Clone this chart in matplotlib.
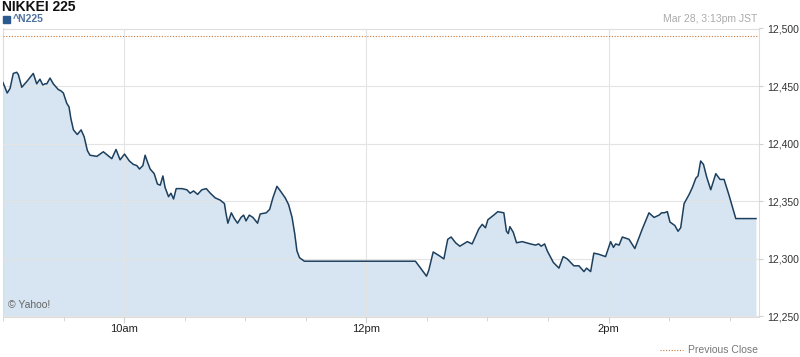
"""
NIKKEI 225 intraday chart
"""
import matplotlib
matplotlib.use("Agg")
import matplotlib.pyplot as plt
from matplotlib.patches import Rectangle
from matplotlib.ticker import FixedLocator, MultipleLocator

# minutes after 9:00 JST
minutes = [0, 2.1, 3.5, 5.1, 6.8, 7.6, 9.3, 11.8, 15.0, 16.7,
           18.3, 19.7, 20.8, 21.7, 23.3, 24.9, 27.4, 28.6, 29.9, 31.6,
           32.7, 33.6, 34.9, 36.8, 38.7, 40.2, 41.8, 43.1, 46.5, 49.7,
           53.9, 56.0, 58.0, 60.2, 62.6, 64.6, 66.3, 67.6, 69.3, 70.4,
           71.6, 72.9, 74.9, 76.5, 77.9, 79.2, 80.3, 82.0, 83.2, 84.5,
           85.8, 88.6, 91.1, 92.7, 94.4, 96.4, 98.5, 100.7, 102.7, 105.1,
           107.6, 109.7, 110.4, 111.4, 113.1, 114.6, 116.2, 117.9, 119.2, 120.4,
           122.0, 123.8, 126.1, 127.4, 130.4, 132.1, 133.7, 135.7, 137.4, 139.8,
           141.5, 143.2, 144.5, 145.6, 146.9, 149.3, 204.3, 209.8, 210.9, 213.1,
           215.9, 218.4, 220.3, 222.0, 224.2, 226.3, 230.0, 232.4, 235.7, 237.4,
           239.0, 240.2, 243.1, 245.1, 248.1, 249.4, 250.3, 251.1, 252.8, 254.4,
           257.2, 261.3, 263.8, 265.4, 266.6, 268.3, 269.6, 272.6, 275.4, 277.5,
           279.5, 282.8, 285.3, 287.8, 289.1, 291.1, 292.7, 295.2, 298.5, 301.0,
           302.4, 303.5, 305.2, 306.8, 310.1, 313.0, 316.7, 320.0, 322.5, 325.0,
           326.2, 327.5, 329.1, 330.4, 332.8, 334.4, 335.7, 337.4, 339.9, 341.5,
           343.2, 344.3, 345.6, 347.0, 348.6, 350.6, 353.1, 355.2, 357.2, 359.7,
           363.0, 373.0]

prices = [12453, 12444, 12448, 12461, 12462, 12460, 12449, 12454, 12461, 12452,
          12456, 12451, 12452, 12452, 12457, 12452, 12447, 12446, 12444, 12435,
          12432, 12422, 12412, 12408, 12412, 12406, 12394, 12390, 12389, 12393,
          12387, 12395, 12386, 12391, 12385, 12382, 12381, 12378, 12381, 12390,
          12384, 12378, 12374, 12365, 12364, 12372, 12362, 12354, 12357, 12352,
          12361, 12361, 12360, 12357, 12359, 12356, 12360, 12361, 12357, 12353,
          12351, 12348, 12340, 12331, 12340, 12335, 12331, 12336, 12338, 12333,
          12338, 12336, 12331, 12339, 12340, 12343, 12353, 12363, 12359, 12353,
          12347, 12336, 12322, 12307, 12301, 12298, 12298, 12285, 12290, 12306,
          12303, 12300, 12317, 12319, 12314, 12311, 12315, 12313, 12326, 12330,
          12327, 12334, 12338, 12341, 12340, 12324, 12322, 12328, 12323, 12314,
          12315, 12313, 12312, 12313, 12311, 12313, 12307, 12297, 12292, 12302,
          12300, 12294, 12294, 12289, 12292, 12289, 12305, 12304, 12302, 12315,
          12310, 12313, 12312, 12319, 12317, 12309, 12326, 12340, 12336, 12338,
          12340, 12340, 12341, 12332, 12329, 12324, 12327, 12348, 12356, 12362,
          12370, 12372, 12385, 12382, 12371, 12360, 12374, 12369, 12369, 12355,
          12335, 12335]

prev_close = 12493.79
x_ticks = [60, 180, 300]
x_labels = ["10am", "12pm", "2pm"]
y_ticks = [12250, 12300, 12350, 12400, 12450, 12500]
y_labels = ["12,250", "12,300", "12,350", "12,400", "12,450", "12,500"]

plt.rcParams["font.family"] = ["Liberation Sans", "DejaVu Sans"]

line_col = "#1d3f5e"
fill_col = "#d6e5f1"
grid_col = "#e4e4e4"

fig = plt.figure(figsize=(8, 3.57), dpi=100)
ax = fig.add_axes([3 / 800, 40.5 / 357, 756 / 800, 288 / 357])

ax.fill_between(minutes, prices, 12250, color=fill_col, lw=0, zorder=1)
ax.plot(minutes, prices, color=line_col, lw=1.1, zorder=3)
ax.axhline(prev_close, color="#c8783c", lw=0.8, ls=(0, (1, 1.5)), zorder=3)

ax.set_xlim(0, 374.5)
ax.set_ylim(12250, 12500)

ax.xaxis.set_major_locator(FixedLocator(x_ticks))
ax.set_xticklabels(x_labels)
ax.xaxis.set_minor_locator(MultipleLocator(30))
ax.set_yticks(y_ticks)
ax.set_yticklabels(y_labels)
ax.yaxis.tick_right()

ax.tick_params(axis="x", which="major", length=4, color="#d0d0d0",
               labelsize=8, pad=1.5, labelcolor="#222222")
ax.tick_params(axis="x", which="minor", length=3, color="#d0d0d0")
ax.tick_params(axis="y", length=3, color="#d0d0d0", labelsize=7.5,
               pad=3, labelcolor="#333333")

ax.set_axisbelow(False)
ax.grid(True, which="major", color=grid_col, lw=0.8, zorder=2)
for s in ax.spines.values():
    s.set_color("#dddddd")
    s.set_linewidth(0.8)

# titles and labels
fig.text(2 / 800, 1 - 7 / 357, "NIKKEI 225", fontsize=10, fontweight="bold",
         va="center", ha="left", color="#111111")
fig.patches.append(Rectangle((3 / 800, 1 - 23 / 357), 7 / 800, 7 / 357,
                             transform=fig.transFigure, color="#2b5a8e"))
fig.text(13 / 800, 1 - 19 / 357, "^N225", fontsize=7.5, fontweight="bold",
         va="center", ha="left", color="#4f72a0")
fig.text(757 / 800, 1 - 19 / 357, "Mar 28, 3:13pm JST", fontsize=7.5,
         va="center", ha="right", color="#aaaaaa")
ax.text(0.006, 0.04, "\u00A9 Yahoo!", transform=ax.transAxes, fontsize=7.5,
        va="center", ha="left", color="#666666")

# previous close legend
fig.lines.append(plt.Line2D([660 / 800, 683 / 800], [1 - 350 / 357] * 2,
                            transform=fig.transFigure, color="#c8783c",
                            lw=0.8, ls=(0, (1, 1.5))))
fig.text(688 / 800, 1 - 350 / 357, "Previous Close", fontsize=7.5,
         va="center", ha="left", color="#777777")

fig.savefig("out.png", dpi=100)
